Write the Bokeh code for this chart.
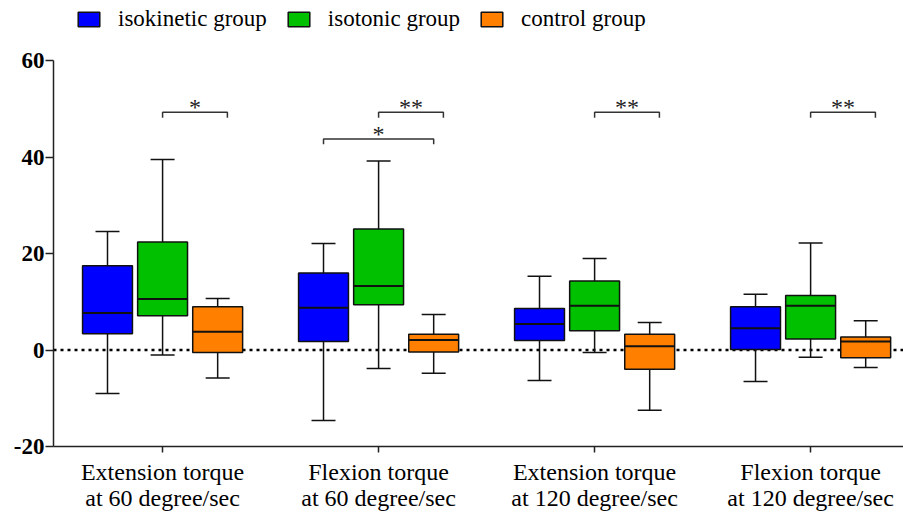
import numpy as np
from bokeh.plotting import figure
from bokeh.models import Range1d, FixedTicker, Legend, LegendItem, Span, ColumnDataSource
from bokeh.embed import file_html
from bokeh.resources import INLINE
from bokeh.core.properties import value

# ---------------- data ----------------
categories = ["Extension torque\nat 60 degree/sec", "Flexion torque\nat 60 degree/sec",
              "Extension torque\nat 120 degree/sec", "Flexion torque\nat 120 degree/sec"]
groups = ["isokinetic group", "isotonic group", "control group"]

isokinetic_low = [-9.0, -14.6, -6.3, -6.5]
isokinetic_q1 = [3.4, 1.8, 2.0, 0.1]
isokinetic_med = [7.7, 8.8, 5.4, 4.5]
isokinetic_q3 = [17.5, 16.0, 8.6, 9.0]
isokinetic_high = [24.6, 22.1, 15.3, 11.6]

isotonic_low = [-1.0, -3.8, -0.5, -1.5]
isotonic_q1 = [7.1, 9.4, 4.0, 2.3]
isotonic_med = [10.6, 13.3, 9.2, 9.2]
isotonic_q3 = [22.4, 25.1, 14.3, 11.3]
isotonic_high = [39.5, 39.2, 19.0, 22.2]

control_low = [-5.8, -4.8, -12.5, -3.6]
control_q1 = [-0.5, -0.4, -4.0, -1.6]
control_med = [3.8, 2.1, 0.8, 1.8]
control_q3 = [9.0, 3.3, 3.3, 2.7]
control_high = [10.7, 7.4, 5.7, 6.1]

y_ticks = [-20, 0, 20, 40, 60]
y_tick_labels = ["-20", "0", "20", "40", "60"]

# significance brackets
sig_category = [0, 1, 1, 2, 3]
sig_from = [1, 1, 0, 1, 1]
sig_to = [2, 2, 2, 2, 2]
sig_level = [49.3, 49.3, 43.8, 49.3, 49.3]
sig_label = ["*", "**", "*", "**", "**"]

# ---------------- style ----------------
colors = ["#0000FF", "#00C000", "#FF8000"]
offsets = [-0.255, 0.0, 0.255]
box_w = 0.231
cap_w = 0.111
serif = "Liberation Serif"

stats = [
    (isokinetic_low, isokinetic_q1, isokinetic_med, isokinetic_q3, isokinetic_high),
    (isotonic_low, isotonic_q1, isotonic_med, isotonic_q3, isotonic_high),
    (control_low, control_q1, control_med, control_q3, control_high),
]

p = figure(width=903, height=513, output_backend="svg", toolbar_location=None,
           x_range=Range1d(-0.505, 3.43), y_range=Range1d(-20, 72.5),
           min_border_left=53, min_border_right=0, min_border_top=0, min_border_bottom=63)
p.grid.visible = False
p.outline_line_color = None
p.background_fill_color = "white"

zero = Span(location=0, dimension="width", line_color="black", line_width=2.5,
            line_dash="3 4", level="underlay")
p.add_layout(zero)

cat_idx = np.arange(len(categories))
legend_items = []
for g, (lo, q1, med, q3, hi) in enumerate(stats):
    x = cat_idx + offsets[g]
    src = ColumnDataSource(dict(x=x, lo=lo, q1=q1, med=med, q3=q3, hi=hi,
                                xl=x - box_w / 2, xr=x + box_w / 2,
                                cl=x - cap_w / 2, cr=x + cap_w / 2))
    # whiskers
    p.segment(x0="x", y0="q3", x1="x", y1="hi", source=src, line_color="#111111", line_width=1.5)
    p.segment(x0="x", y0="q1", x1="x", y1="lo", source=src, line_color="#111111", line_width=1.5)
    p.segment(x0="cl", y0="hi", x1="cr", y1="hi", source=src, line_color="#111111", line_width=1.5)
    p.segment(x0="cl", y0="lo", x1="cr", y1="lo", source=src, line_color="#111111", line_width=1.5)
    # box
    r = p.vbar(x="x", top="q3", bottom="q1", width=box_w, source=src,
               fill_color=colors[g], line_color="#111111", line_width=1.5)
    # median
    p.segment(x0="xl", y0="med", x1="xr", y1="med", source=src, line_color="#111111", line_width=2)
    legend_items.append(LegendItem(label=groups[g], renderers=[r]))

# significance brackets
bx, by, tx, ty = [], [], [], []
drop = 1.1
for c, f, t, lvl in zip(sig_category, sig_from, sig_to, sig_level):
    left = c + offsets[f]
    right = c + offsets[t] + (0.045 if f == 1 else 0.0)
    bx.append([left, left, right, right])
    by.append([lvl - drop, lvl, lvl, lvl - drop])
    tx.append((left + right) / 2)
    ty.append(lvl)
p.multi_line(xs=bx, ys=by, line_color="#333333", line_width=1.5)
p.text(x=tx, y=ty, text=sig_label, text_font=value(serif), text_font_size="24px",
       text_align="center", text_baseline="alphabetic", text_color="#222222",
       y_offset=-5)

# axes
p.yaxis.ticker = FixedTicker(ticks=y_ticks)
p.yaxis.major_label_overrides = {t: s for t, s in zip(y_ticks, y_tick_labels)}
p.yaxis.bounds = (-20, 60)
p.yaxis.major_label_text_font = serif
p.yaxis.major_label_text_font_style = "bold"
p.yaxis.major_label_text_font_size = "23px"
p.yaxis.major_label_text_color = "black"
p.yaxis.major_tick_out = 8
p.yaxis.major_tick_in = 0
p.yaxis.minor_tick_line_color = None
p.yaxis.axis_line_width = 1.5
p.yaxis.axis_line_color = "#222222"
p.yaxis.major_tick_line_width = 1.5
p.yaxis.major_tick_line_color = "#222222"
p.yaxis.major_label_standoff = 1

p.xaxis.ticker = FixedTicker(ticks=list(cat_idx))
p.xaxis.major_label_overrides = {int(i): categories[i] for i in cat_idx}
p.xaxis.major_label_text_font = serif
p.xaxis.major_label_text_font_size = "24px"
p.xaxis.major_label_text_color = "black"
p.xaxis.major_label_text_line_height = 1.0
p.xaxis.major_tick_out = 6
p.xaxis.major_tick_in = 0
p.xaxis.minor_tick_line_color = None
p.xaxis.axis_line_width = 1.5
p.xaxis.axis_line_color = "#222222"
p.xaxis.major_tick_line_width = 1.5
p.xaxis.major_tick_line_color = "#222222"
p.xaxis.major_label_standoff = 6

legend = Legend(items=legend_items, orientation="horizontal", location=(22, 414),
                glyph_width=27, glyph_height=18, label_standoff=16, spacing=18,
                label_text_font=serif, label_text_font_size="23px", label_text_color="black",
                padding=0, margin=0, border_line_color=None, background_fill_alpha=0)
p.add_layout(legend)

open("out.html", "w").write(file_html(p, INLINE))
